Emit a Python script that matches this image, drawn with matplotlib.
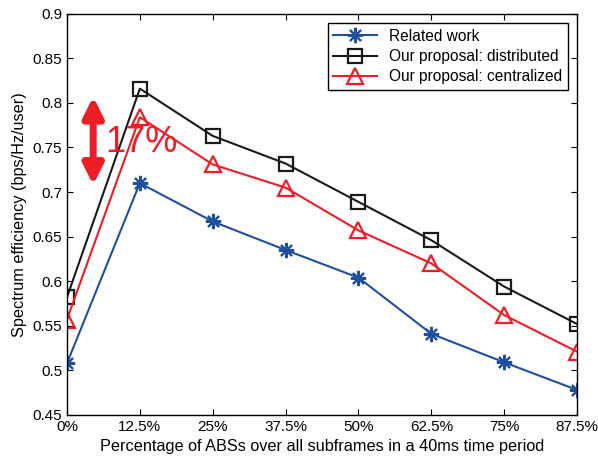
import matplotlib

matplotlib.use('agg')
import matplotlib.pyplot as plt
import numpy as np

plt.rcParams['font.family'] = ['Liberation Sans', 'DejaVu Sans']

x_labels = ['0%', '12.5%', '25%', '37.5%', '50%', '62.5%', '75%', '87.5%']
x_vals = [0, 12.5, 25, 37.5, 50, 62.5, 75, 87.5]
related = [0.508, 0.710, 0.667, 0.635, 0.604, 0.541, 0.509, 0.478]
distributed = [0.582, 0.816, 0.763, 0.732, 0.689, 0.646, 0.594, 0.552]
centralized = [0.557, 0.784, 0.731, 0.705, 0.657, 0.620, 0.562, 0.521]

fig = plt.figure(figsize=(5.98, 4.59), dpi=100)
ax = fig.add_axes([0.112, 0.096, 0.853, 0.874])

ax.plot(x_vals, related, color='#1f4ea3', lw=1.5, marker=(8, 2, 0), ms=11,
        mew=1.5, label='Related work')
ax.plot(x_vals, distributed, color='#1a1a1a', lw=1.5, marker='s', ms=10,
        mfc='none', mew=1.6, label='Our proposal: distributed')
ax.plot(x_vals, centralized, color='#ee1c25', lw=1.5, marker='^', ms=12,
        mfc='none', mew=1.6, label='Our proposal: centralized')

# 17% gap annotation
ax.annotate('', xy=(4.5, 0.708), xytext=(4.5, 0.807),
            arrowprops=dict(arrowstyle='<|-|>', color='#ee1c25', lw=5,
                            mutation_scale=30, shrinkA=0, shrinkB=0))
ax.text(6.6, 0.756, '17%', color='#ee1c25', fontsize=26, va='center', ha='left')

ax.set_xlim(0, 87.5)
ax.set_ylim(0.45, 0.9)
ax.set_xticks(x_vals)
ax.set_xticklabels(x_labels)
ax.set_yticks(np.arange(0.45, 0.901, 0.05))
ax.set_yticklabels(['0.45', '0.5', '0.55', '0.6', '0.65', '0.7', '0.75', '0.8', '0.85', '0.9'])
ax.tick_params(direction='in', top=True, right=True, labelsize=11, length=4)
for s in ax.spines.values():
    s.set_linewidth(1.0)

ax.set_xlabel('Percentage of ABSs over all subframes in a 40ms time period', fontsize=11.7)
ax.set_ylabel('Spectrum efficiency (bps/Hz/user)', fontsize=11.7)

leg = ax.legend(loc='upper right', fontsize=11.2, fancybox=False, framealpha=1,
                edgecolor='black', borderaxespad=0.6, handlelength=2.8,
                labelspacing=0.35, borderpad=0.35)
leg.get_frame().set_linewidth(1.0)

fig.savefig('out.png', dpi=100)
